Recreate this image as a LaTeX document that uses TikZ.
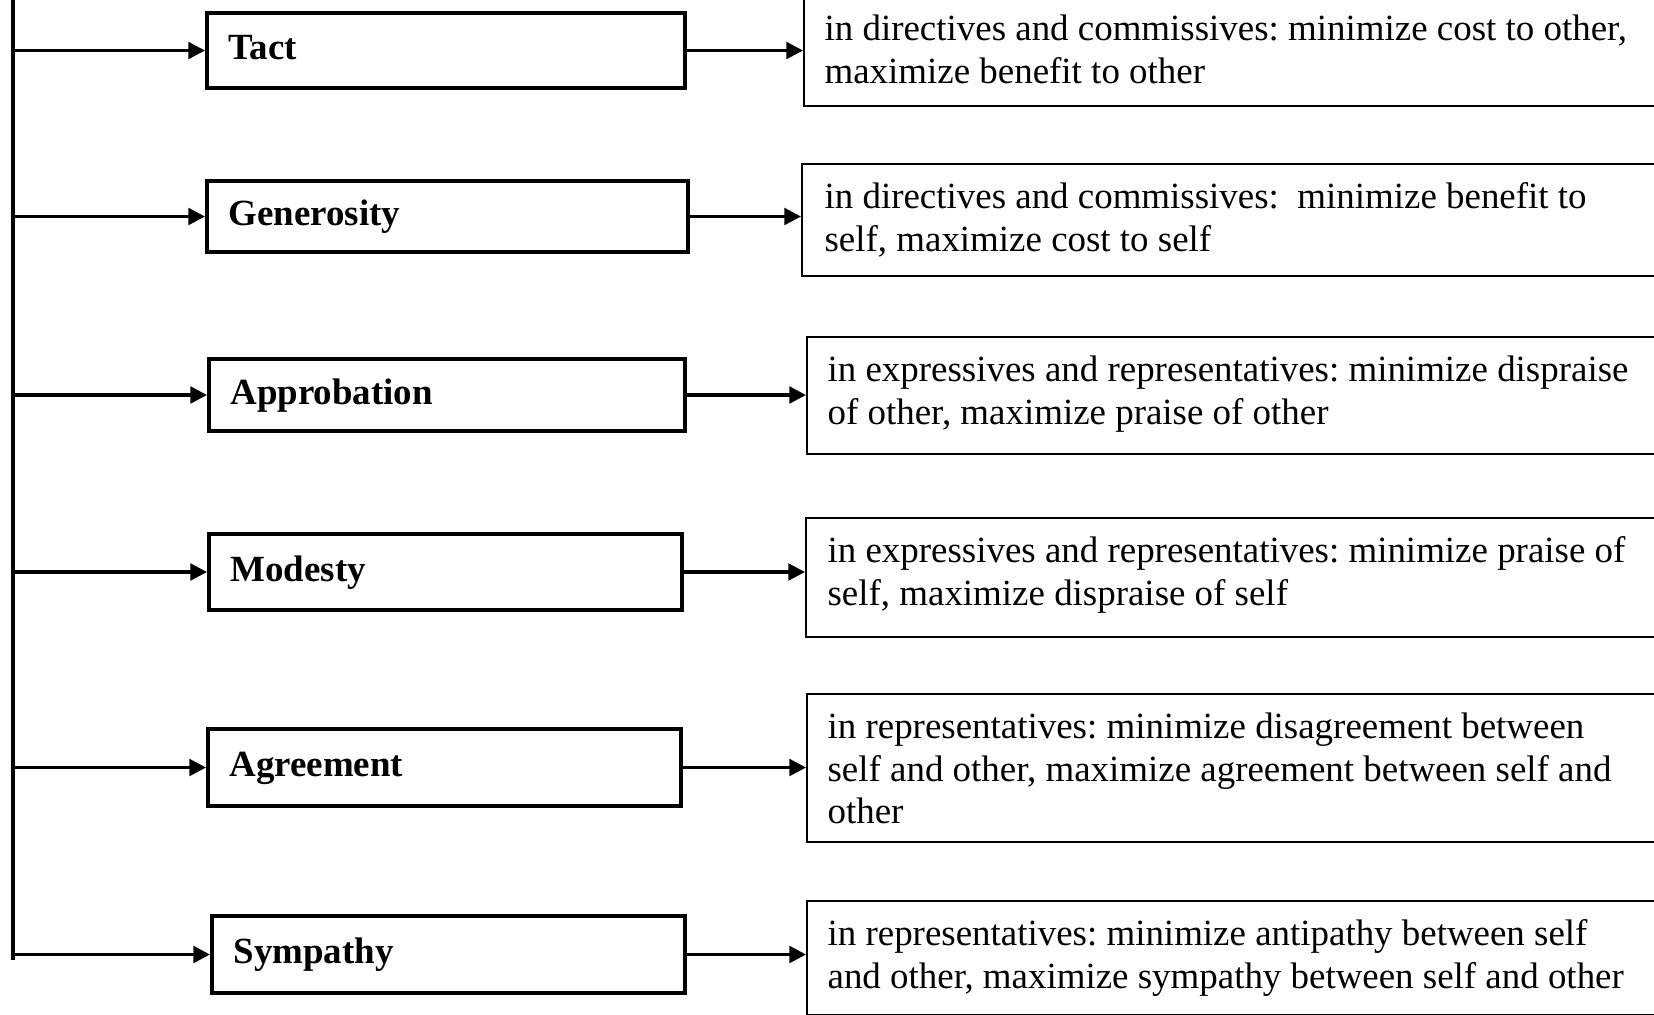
\documentclass[tikz,border=0pt]{standalone}
\usepackage{fontspec}
\setmainfont{Liberation Serif}
\usetikzlibrary{arrows.meta}
\frenchspacing
\def\u{0.325pt}
\tikzset{
  lbox/.style={draw, line width=1.3pt, rectangle, anchor=west, inner xsep=7pt,
    align=left, font=\fontsize{12}{13.8}\selectfont\bfseries\frenchspacing, text height=8.5pt, text depth=2.5pt},
  rbox/.style={draw, line width=0.65pt, rectangle, anchor=north west, inner sep=0pt},
  rtext/.style={anchor=north west, inner sep=0pt, align=left, font=\fontsize{12}{13.8}\selectfont\frenchspacing},
  arr/.style={line width=1.05pt, -{Triangle[length=5.4pt,width=5.4pt]}},
  stemline/.style={line width=1.1pt}
}
\begin{document}
\begin{tikzpicture}[x=\u, y=-\u]
\clip (0,0) rectangle (1654,1014);
\fill[white] (0,0) rectangle (1654,1014);
% left boxes
\node[lbox, minimum width={478*0.325pt}, minimum height={75*0.325pt}, text width={(478-43)*0.325pt}] (l1) at (205,50.5) {Tact};
\node[lbox, minimum width={481*0.325pt}, minimum height={71*0.325pt}, text width={(481-43)*0.325pt}] (l2) at (205,216.5) {Generosity};
\node[lbox, minimum width={476*0.325pt}, minimum height={72*0.325pt}, text width={(476-43)*0.325pt}] (l3) at (207,395) {Approbation};
\node[lbox, minimum width={473*0.325pt}, minimum height={76*0.325pt}, text width={(473-43)*0.325pt}] (l4) at (207,572) {Modesty};
\node[lbox, minimum width={473*0.325pt}, minimum height={77*0.325pt}, text width={(473-43)*0.325pt}] (l5) at (206,767.5) {Agreement};
\node[lbox, minimum width={473*0.325pt}, minimum height={77*0.325pt}, text width={(473-43)*0.325pt}] (l6) at (210,954.5) {Sympathy};
% right boxes
\node[rbox, minimum width={880*0.325pt}, minimum height={110*0.325pt}] (r1) at (803,-5) {};
\node[rbox, minimum width={880*0.325pt}, minimum height={112*0.325pt}] (r2) at (801,163) {};
\node[rbox, minimum width={880*0.325pt}, minimum height={117*0.325pt}] (r3) at (806,336) {};
\node[rbox, minimum width={880*0.325pt}, minimum height={119*0.325pt}] (r4) at (805,517) {};
\node[rbox, minimum width={880*0.325pt}, minimum height={148*0.325pt}] (r5) at (806,693) {};
\node[rbox, minimum width={880*0.325pt}, minimum height={114*0.325pt}] (r6) at (806,900) {};
% right texts
\node[rtext] (t1) at (824,10.3) {\strut in directives and commissives: minimize cost to other,\\maximize benefit to other};
\node[rtext] (t2) at (824,178.3) {\strut in directives and commissives:\ \ minimize benefit to\\self, maximize cost to self};
\node[rtext] (t3) at (827,351.3) {\strut in expressives and representatives: minimize dispraise\\of other, maximize praise of other};
\node[rtext] (t4) at (827,532.3) {\strut in expressives and representatives: minimize praise of\\self, maximize dispraise of self};
\node[rtext] (t5) at (827,708.3) {\strut in representatives: minimize disagreement between\\self and other, maximize agreement between self and\\other};
\node[rtext] (t6) at (827,915.3) {\strut in representatives: minimize antipathy between self\\and other, maximize sympathy between self and other};
% stem
\coordinate (stemtop) at (13,-5);
\coordinate (stembot) at (13,960);
\draw[stemline] (stemtop) -- (stembot);
% arrows
\foreach \i in {1,...,6}{
  \draw[arr] (l\i.west -| stemtop) -- (l\i.west);
  \draw[arr] (l\i.east) -- (l\i.east -| r\i.west);
}
\end{tikzpicture}
\end{document}
